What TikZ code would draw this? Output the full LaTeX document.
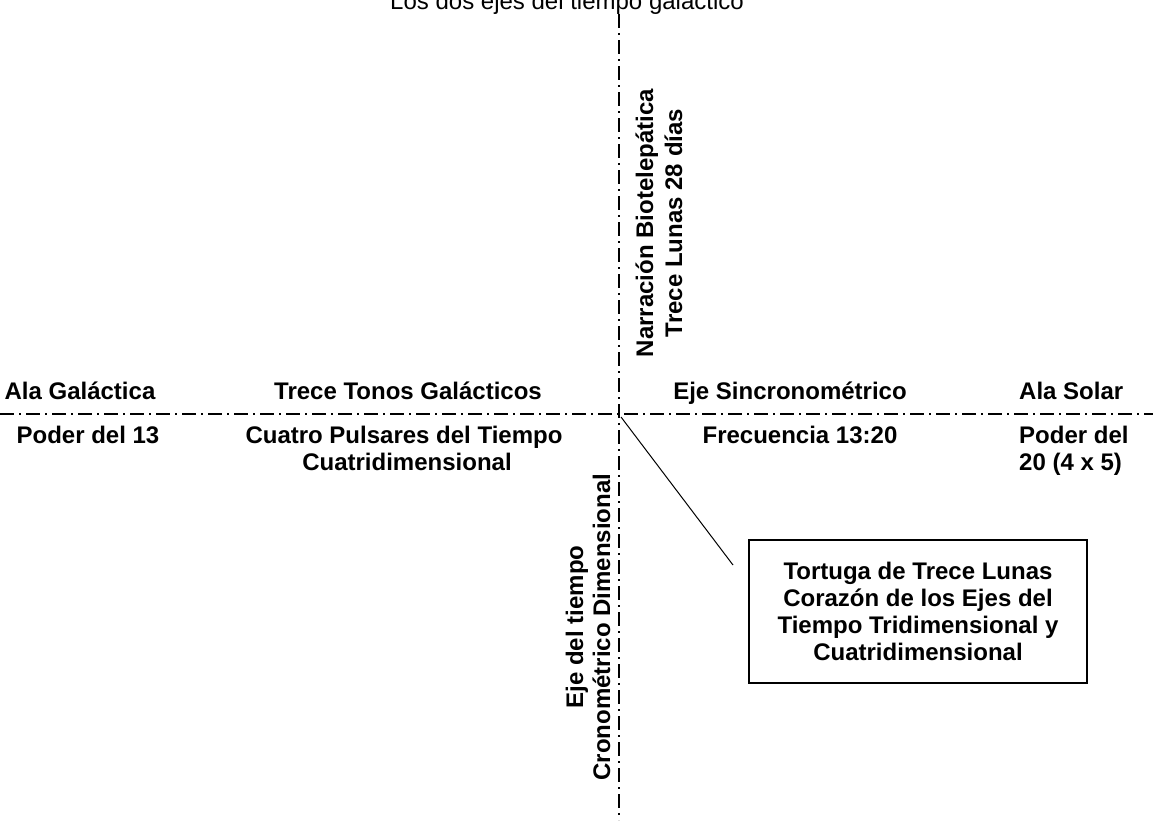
\documentclass[tikz,border=0pt]{standalone}
\usepackage{fontspec}
\setmainfont{Liberation Sans}
\begin{document}
\begin{tikzpicture}[x=1pt,y=-1pt,
  lbl/.style={font=\fontsize{24}{27}\selectfont\bfseries, inner sep=0pt, anchor=base},
  vlbl/.style={lbl, rotate=90},
  ttl/.style={font=\fontsize{24}{27}\selectfont, inner sep=0pt, anchor=base},
  axisline/.style={line width=1.6pt, dash pattern=on 14pt off 5pt on 2pt off 5pt},
  boxn/.style={draw, line width=1.5pt, minimum width=338pt, minimum height=143pt, align=center,
    font=\fontsize{24}{27}\selectfont\bfseries, inner sep=0pt}]
\useasboundingbox (0,0) rectangle (1153,820);
% title
\node[ttl] (title) at (567,9) {Los dos ejes del tiempo galáctico};
% axes
\coordinate (hl) at (0,414);
\coordinate (hr) at (1153,414);
\coordinate (vt) at (619,14);
\coordinate (vb) at (619,820);
\draw[axisline] (hl) -- (hr);
\draw[axisline] (vt) -- (vb);
% horizontal labels
\node[lbl] (alag) at (80,399) {Ala Galáctica};
\node[lbl] (trece) at (408,399) {Trece Tonos Galácticos};
\node[lbl] (sincro) at (790,399) {Eje Sincronométrico};
\node[lbl, anchor=base west] (alas) at (1019,399) {Ala Solar};
\node[lbl] (poder13) at (88,443) {Poder del 13};
\node[lbl] (pulsa) at (404,443) {Cuatro Pulsares del Tiempo};
\node[lbl] (cuatri) at (407,470) {Cuatridimensional};
\node[lbl] (frec) at (800,443) {Frecuencia 13:20};
\node[lbl, anchor=base west] (poder20a) at (1019,443) {Poder del};
\node[lbl, anchor=base west] (poder20b) at (1019,470) {20 (4 x 5)};
% vertical labels
\node[vlbl] (narr) at (653,223) {Narración Biotelepática};
\node[vlbl] (lunas) at (682,223) {Trece Lunas 28 días};
\node[vlbl] (ejet) at (583,627) {Eje del tiempo};
\node[vlbl] (crono) at (610,627) {Cronométrico Dimensional};
% callout
\node[boxn] (box) at (918,611.5) {Tortuga de Trece Lunas\\Corazón de los Ejes del\\Tiempo Tridimensional y\\Cuatridimensional};
\coordinate (heart) at (621,417);
\coordinate (tip) at (733,565);
\draw[line width=1pt] (heart) -- (tip);
\end{tikzpicture}
\end{document}
